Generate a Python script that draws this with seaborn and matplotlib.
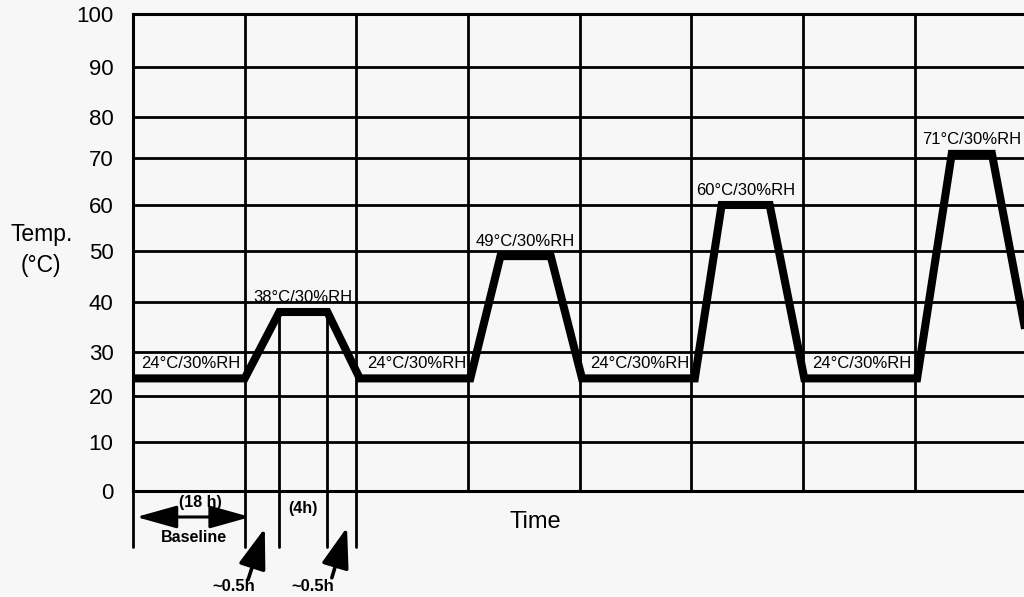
import numpy as np
import pandas as pd
import matplotlib
matplotlib.use("Agg")
import matplotlib.pyplot as plt
import seaborn as sns

# ---------------- data ----------------
# temperature profile vertices (time in schematic grid columns, temp in degC)
time_pts = [0.0, 1.0, 1.31, 1.74, 2.03, 3.02, 3.29, 3.74, 4.02,
            5.03, 5.27, 5.70, 6.01, 7.02, 7.33, 7.69, 8.07]
temp_pts = [24, 24, 38, 38, 24, 24, 49, 49, 24,
            24, 60, 60, 24, 24, 71, 71, 24]
rh_level = 30

y_ticks = [0, 10, 20, 30, 40, 50, 60, 70, 80, 90, 100]
y_tick_labels = [str(v) for v in y_ticks]
# the hand-drawn original has non-uniform spacing between gridlines
y_tick_frac = [0.0, 0.1027, 0.1992, 0.2914, 0.3962, 0.5031,
               0.5996, 0.6981, 0.7841, 0.8889, 1.0]
x_grid = [1, 2, 3, 4, 5, 6, 7]

ylabel_text = "Temp.\n(°C)"
xlabel_text = "Time"
baseline_hours = "(18 h)"
baseline_text = "Baseline"
plateau_hours = "(4h)"
ramp_text = "~0.5h"

# ---------------- style ----------------
sns.set_theme(style="white")
plt.rcParams["font.family"] = ["Liberation Sans", "DejaVu Sans"]
bg = "#f7f7f7"

fig = plt.figure(figsize=(10.24, 5.97), dpi=100, facecolor=bg)
ax = fig.add_axes([133 / 1024, 106 / 597, 891 / 1024, 477 / 597])
ax.set_facecolor(bg)

yv = np.array(y_ticks, float)
yf = np.array(y_tick_frac, float)


def fwd(v):
    v = np.asarray(v, float)
    out = np.interp(v, yv, yf)
    out = np.where(v < yv[0], yf[0] + (v - yv[0]) * (yf[1] - yf[0]) / (yv[1] - yv[0]), out)
    out = np.where(v > yv[-1], yf[-1] + (v - yv[-1]) * (yf[-1] - yf[-2]) / (yv[-1] - yv[-2]), out)
    return out


def inv(f):
    f = np.asarray(f, float)
    out = np.interp(f, yf, yv)
    out = np.where(f < yf[0], yv[0] + (f - yf[0]) * (yv[1] - yv[0]) / (yf[1] - yf[0]), out)
    out = np.where(f > yf[-1], yv[-1] + (f - yf[-1]) * (yv[-1] - yv[-2]) / (yf[-1] - yf[-2]), out)
    return out


ax.set_yscale("function", functions=(fwd, inv))

df = pd.DataFrame({"time": time_pts, "temp": temp_pts})
sns.lineplot(data=df, x="time", y="temp", sort=False, estimator=None,
             color="black", linewidth=5.8, ax=ax, zorder=5,
             solid_joinstyle="miter", solid_capstyle="butt")

ax.set_xlim(0, 7.977)
ax.set_ylim(0, 100)
ax.set_yticks(y_ticks)
ax.set_yticklabels(y_tick_labels)
ax.set_xticks(x_grid)
ax.tick_params(axis="y", length=0, pad=14, labelsize=16, labelcolor="black")
ax.tick_params(axis="x", length=0, labelbottom=False)
ax.grid(True, color="black", linewidth=2)
for s in ["left", "top", "bottom"]:
    ax.spines[s].set_visible(True)
    ax.spines[s].set_color("black")
    ax.spines[s].set_linewidth(2.2)
ax.spines["right"].set_visible(False)

ax.set_ylabel(ylabel_text, rotation=0, fontsize=16.5, color="black",
              ha="center", va="center", linespacing=1.45)
ax.yaxis.set_label_coords(-0.103, 0.505)
ax.set_xlabel(xlabel_text, fontsize=17, color="black", va="center")
ax.xaxis.set_label_coords(0.451, -0.065)

# plateau / baseline labels
for i in range(len(time_pts) - 1):
    if temp_pts[i] == temp_pts[i + 1] and time_pts[i + 1] <= 8:
        t = temp_pts[i]
        label = f"{t}°C/{rh_level}%RH"
        if t == 24:
            ax.annotate(label, xy=(time_pts[i], t), xytext=(5.5, 10.5),
                        textcoords="offset points", ha="left", va="center",
                        fontsize=12, color="black", zorder=6)
        else:
            ax.annotate(label, xy=((time_pts[i] + time_pts[i + 1]) / 2, t),
                        xytext=(0, 10.5), textcoords="offset points",
                        ha="center", va="center", fontsize=12,
                        color="black", zorder=6)

# below-axis schematic annotations
xt = ax.get_xaxis_transform()
low = -0.117
for xv in [0, 1, 2]:
    ax.plot([xv, xv], [0, low], transform=xt, color="black", lw=2, clip_on=False)
for xv in [time_pts[2], time_pts[3]]:
    ax.plot([xv, xv], [float(fwd(38)), low], transform=xt, color="black",
            lw=2, clip_on=False, zorder=3)

ax.annotate("", xy=(0.03, -0.0545), xycoords=xt, xytext=(1.05, -0.0545),
            textcoords=xt,
            arrowprops=dict(arrowstyle="<|-|>,head_length=2.5,head_width=0.7",
                            color="black", lw=2.2, shrinkA=0, shrinkB=0,
                            mutation_scale=10), annotation_clip=False)
ax.text(0.6, -0.025, baseline_hours, transform=xt, ha="center", va="center",
        fontsize=11.5, fontweight="bold", color="black")
ax.text(0.546, -0.0985, baseline_text, transform=xt, ha="center", va="center",
        fontsize=11.5, fontweight="bold", color="black")
ax.text(1.52, -0.0377, plateau_hours, transform=xt, ha="center", va="center",
        fontsize=11.5, fontweight="bold", color="black")

for tail, tip, lab in [((1.03, -0.186), (1.18, -0.078), 0.9),
                       ((1.78, -0.182), (1.916, -0.076), 1.61)]:
    ax.annotate("", xy=tip, xycoords=xt, xytext=tail, textcoords=xt,
                arrowprops=dict(arrowstyle="-|>,head_length=2.5,head_width=0.85",
                                color="black", lw=2.6, shrinkA=0, shrinkB=0,
                                mutation_scale=10), annotation_clip=False)
    ax.text(lab, -0.2, ramp_text, transform=xt, ha="center", va="center",
            fontsize=12, fontweight="bold", color="black")

fig.savefig("out.png", dpi=100, facecolor=bg)
